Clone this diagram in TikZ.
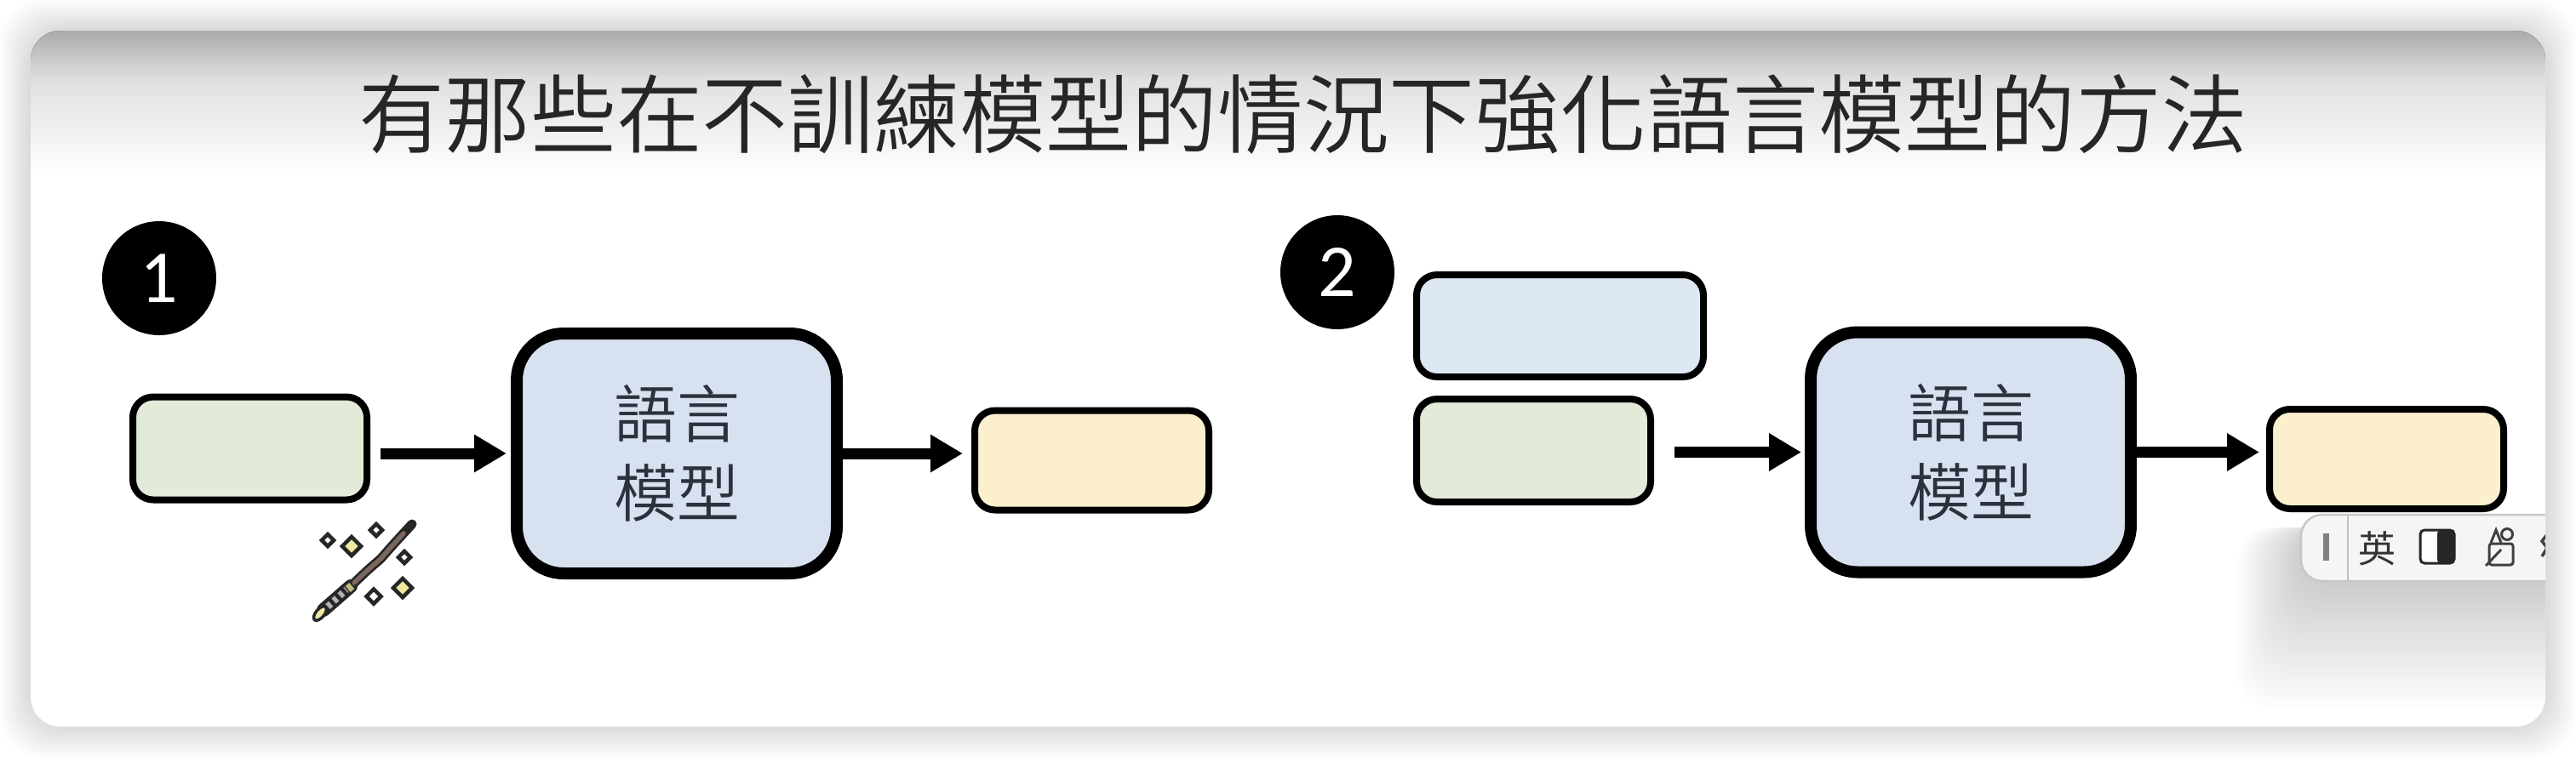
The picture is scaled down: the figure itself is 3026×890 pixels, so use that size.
\documentclass[tikz,border=0pt]{standalone}
\usepackage{fontspec}
\usepackage{tikz}
\usetikzlibrary{shapes.geometric, arrows.meta, positioning}
\setmainfont{Noto Sans CJK TC}
\newfontfamily\cjklight[UprightFont=* DemiLight]{Noto Sans CJK TC}
\newfontfamily\numfont{Carlito}
\definecolor{slgreen}{RGB}{226,235,216}
\definecolor{slblue}{RGB}{216,225,239}
\definecolor{slsky}{RGB}{221,232,244}
\definecolor{slyellow}{RGB}{252,239,206}
\definecolor{slhead}{RGB}{42,50,62}
\definecolor{slwood}{RGB}{122,104,94}
\definecolor{slspark}{RGB}{240,232,160}
\definecolor{sltool}{RGB}{245,245,245}
\tikzset{
  slot/.style      = {rectangle, rounded corners=2.4mm, draw=black, line width=0.8mm,
                      minimum height=12.1mm, inner sep=0pt},
  greenslot/.style = {slot, fill=slgreen, minimum width=27.5mm},
  yellowslot/.style= {slot, fill=slyellow, minimum width=27.5mm, minimum height=11.7mm},
  blueslot/.style  = {slot, fill=slsky, minimum width=33.7mm, minimum height=12mm},
  model/.style     = {rectangle, rounded corners=5.5mm, draw=black, line width=1.4mm,
                      fill=slblue, text=slhead, align=center,
                      minimum width=37.6mm, minimum height=28.2mm, inner sep=0pt,
                      font=\cjklight\fontsize{21}{26.5}\selectfont},
  badge/.style     = {circle, fill=black, text=white, minimum size=13.4mm, inner sep=0pt,
                      font=\numfont\fontsize{25}{25}\selectfont},
  flow/.style      = {-{Triangle[length=3.8mm, width=4.2mm]}, line width=1.3mm, draw=black},
  spark/.style     = {diamond, draw=black!85, line width=0.45mm, inner sep=0pt},
  tool/.style      = {rectangle, inner sep=0pt, text=black!80},
}
\begin{document}
\begin{tikzpicture}[x=0.1mm, y=-0.1mm]
  \useasboundingbox (0,0) rectangle (3026,890);
  \fill[white] (0,0) rectangle (3026,890);
  % window shadow
  \foreach \r in {3,6,...,36}
    \fill[black, opacity=0.011, rounded corners=5mm] ({36-\r},{36-\r}) rectangle ({2990+\r},{854+\r});
  \fill[white, rounded corners=3.5mm] (36,36) rectangle (2990,854);
  \begin{scope}
    \clip[rounded corners=3.5mm] (36,36) rectangle (2990,854);
    \fill[top color=black!33, bottom color=black!12] (36,36) rectangle (2990,95);
    \fill[top color=black!12, bottom color=white] (36,95) rectangle (2990,205);
    % input bar and its shadow
    \foreach \r in {3,6,...,75}
      \fill[black, opacity=0.007, rounded corners=4mm] ({2703-\r},620) rectangle (3100,{683+2*\r});
    \node[rectangle, rounded corners=2.5mm, draw=black!22, line width=0.25mm, fill=sltool,
          minimum width=40mm, minimum height=7.8mm, inner sep=0pt] (inputbar) at (2903,644) {};
    \draw[black!25, line width=0.25mm] (2758,605) -- (2758,683);
    \draw[black!50, line width=0.7mm] (2732,627) -- (2732,659);
    \node[tool, font=\fontsize{12.5}{12.5}\selectfont] (lang) at (2792,645) {英};
    \draw[black!85, fill=white, line width=0.3mm, rounded corners=0.5mm] (2843,623) rectangle (2883,662);
    \fill[black!85, rounded corners=0.4mm] (2863,623) rectangle (2883,662);
    \draw[black!75, line width=0.3mm, rounded corners=0.3mm] (2924,639) rectangle (2952,664);
    \draw[black!75, line width=0.3mm] (2945,628) circle (6.5);
    \draw[black!75, line width=0.3mm] (2926,638) -- (2932,623) -- (2938,638);
    \draw[black!75, line width=0.3mm] (2920,665) -- (2938,646);
    \draw[black!75, line width=0.35mm] (2992,628) -- (2986,636) -- (2992,644) -- (2986,654);
  \end{scope}

  \node[font=\cjklight\fontsize{28.7}{28.7}\selectfont, text=black!85] (title) at (1531,134) {有那些在不訓練模型的情況下強化語言模型的方法};

  % 1
  \node[badge] (one) at (187,327) {1};
  \node[greenslot] (prompt) at (293.5,527) {};
  \node[model, right=16.5mm of prompt, yshift=-0.6mm] (lm) {語言\\模型};
  \node[yellowslot, right=15.1mm of lm, yshift=-0.8mm] (answer) {};
  \draw[flow, shorten <=1.2mm, shorten >=0.5mm] (prompt.east |- lm.west) -- (lm.west);
  \draw[flow, shorten >=1mm] (lm.east) -- (answer.west |- lm.east);

  % wand
  \draw[black!85, line width=1.6mm, line cap=round] (380,717) -- (412,689);
  \draw[black!85, line width=1.1mm, line cap=round, line join=round] (412,689) -- (432,670) -- (447,657) -- (462,640) -- (484,616);
  \draw[slwood, line width=0.55mm, line cap=round] (416,685) -- (432,670) -- (447,657) -- (462,640) -- (474,627);
  \draw[black!30, line width=0.8mm, dash pattern=on 0.5mm off 0.45mm] (385,713) -- (407,693);
  \draw[black!85, line width=0.35mm, fill=slspark, rotate around={-40:(376,721)}] (376,721) ellipse (5 and 10);
  \draw[slspark!80!black, line width=0.6mm] (408,687) -- (414,694);
  \foreach \i/\px/\py/\sz/\col in {a/385/635/1.6mm/white, b/413/642/2.4mm/slspark, c/442/623/1.6mm/white,
                                   d/475/655/1.6mm/white, e/473/691/2.4mm/slspark, f/439/701/1.9mm/white}
    \node[spark, fill=\col, minimum size=\sz] (spark\i) at (\px,\py) {};

  % 2
  \node[badge] (two) at (1571,320) {2};
  \node[greenslot] (promptb) at (1801.5,529.5) {};
  \node[blueslot, above=1.8mm of promptb.north west, anchor=south west] (extra) {};
  \node[model, right=17.7mm of promptb, yshift=-0.2mm] (lmb) {語言\\模型};
  \node[yellowslot, right=15.2mm of lmb, yshift=-0.8mm] (answerb) {};
  \draw[flow, shorten <=2.4mm, shorten >=0.4mm] (promptb.east |- lmb.west) -- (lmb.west);
  \draw[flow, shorten >=0.8mm] (lmb.east) -- (answerb.west |- lmb.east);
\end{tikzpicture}
\end{document}
